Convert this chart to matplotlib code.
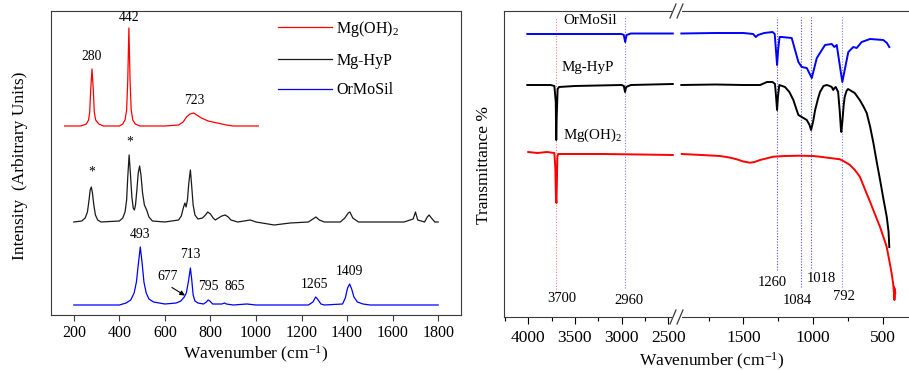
import matplotlib
matplotlib.use("Agg")
import matplotlib.pyplot as plt
from matplotlib.lines import Line2D
from matplotlib.patches import Rectangle

plt.rcParams['font.family'] = ['Liberation Serif', 'DejaVu Serif']
plt.rcParams['mathtext.fontset'] = 'custom'
plt.rcParams['mathtext.rm'] = 'Liberation Serif'
plt.rcParams['mathtext.it'] = 'Liberation Serif:italic'

# ---------------- Raman spectra (left panel), arbitrary units ----------------
raman_mgoh_x = [160, 230, 255, 265, 270, 274, 280, 286, 290, 296, 310, 330, 400, 415, 425, 432,
                437, 442, 447, 452, 459, 470, 490, 600, 660, 680, 695, 710, 726, 740, 760, 790,
                830, 870, 900, 940, 1010]
raman_mgoh_y = [189, 189, 191, 195, 203, 224, 246, 224, 203, 195, 191, 189, 189, 191, 195, 205,
                235, 287, 235, 205, 195, 191, 189, 189, 190, 193, 198, 201, 202, 200, 197, 194,
                192, 190, 189, 189, 189]

raman_hyp_x = [200, 235, 250, 260, 267, 272, 277, 282, 288, 295, 305, 320, 400, 415, 425, 432,
               437, 443, 449, 455, 461, 466, 471, 477, 483, 489, 495, 502, 510, 520, 530, 545,
               600, 660, 672, 682, 688, 693, 699, 705, 712, 718, 724, 732, 745, 765, 778, 788,
               800, 812, 821, 835, 850, 865, 878, 890, 920, 975, 1000, 1080, 1150, 1230, 1250,
               1263, 1278, 1300, 1370, 1390, 1405, 1412, 1425, 1450, 1650, 1690, 1700, 1710,
               1740, 1752, 1760, 1770, 1785, 1800]
raman_hyp_y = [93, 94, 97, 103, 115, 125, 128, 122, 110, 100, 95, 93, 94, 97, 103, 115,
               138, 160, 140, 118, 107, 105, 110, 125, 142, 149, 140, 122, 110, 105, 98, 94,
               93, 95, 99, 108, 112, 108, 115, 132, 145, 128, 110, 100, 96, 97, 100, 103,
               101, 97, 95, 97, 99, 100, 98, 95, 93, 95, 93, 90, 92, 93, 96,
               98, 95, 93, 93, 97, 102, 103, 97, 93, 93, 96, 103, 95,
               93, 98, 100, 97, 93, 93]

raman_orm_x = [200, 400, 430, 450, 465, 475, 483, 492, 500, 508, 518, 530, 550, 600, 650, 670,
               685, 694, 703, 712, 718, 724, 732, 745, 770, 782, 790, 797, 810, 850, 862, 870,
               900, 960, 1000, 1230, 1250, 1262, 1270, 1285, 1300, 1380, 1392, 1402, 1411, 1420,
               1430, 1445, 1470, 1500, 1800]
raman_orm_y = [10, 10, 12, 15, 22, 33, 50, 68, 52, 33, 22, 16, 13, 11, 12, 14,
               18, 22, 33, 47, 35, 20, 14, 12, 11, 13, 15, 14, 11, 11, 12, 11,
               10, 11, 10, 10, 13, 18, 16, 11, 10, 11, 17, 27, 31, 26,
               18, 13, 11, 10, 10]

raman_labels = ["Mg(OH)$_2$", "Mg-HyP", "OrMoSil"]

# ---------------- FTIR spectra (right panel), broken axis ----------------
ftir_orm_hi_x = [4010, 3000, 2975, 2965, 2960, 2955, 2945, 2900, 2450]
ftir_orm_hi_y = [283, 283, 282, 277, 275, 278, 282, 283.5, 283.5]
ftir_orm_lo_x = [1945, 1700, 1500, 1430, 1410, 1395, 1350, 1290, 1275, 1265, 1258, 1250, 1240,
                 1225, 1153, 1105, 1081, 1045, 1009, 973, 914, 866, 847, 830, 790, 747, 711,
                 687, 651, 591, 496, 470, 453]
ftir_orm_lo_y = [283.5, 284, 284, 283, 280, 282, 284, 285, 283, 265, 252, 268, 280,
                 280, 279, 255, 250, 249, 239, 259, 272, 273, 270, 272, 235, 265, 270,
                 269, 275, 278, 277, 274, 270]

ftir_hyp_hi_x = [4010, 3760, 3720, 3705, 3700, 3695, 3685, 3670, 3500, 3000, 2975, 2962, 2950,
                 2900, 2450]
ftir_hyp_hi_y = [232, 232, 231, 215, 177, 200, 228, 230, 231, 232, 231, 225, 230, 232, 233]
ftir_hyp_lo_x = [1945, 1700, 1500, 1380, 1330, 1290, 1273, 1265, 1258, 1252, 1242, 1201, 1170,
                 1141, 1120, 1105, 1081, 1045, 1025, 1014, 1000, 985, 965, 950, 925, 902, 880,
                 866, 855, 846, 837, 820, 808, 800, 797, 790, 780, 773, 760, 749, 725, 701, 665,
                 640, 615, 590, 567, 543, 519, 495, 471, 458, 453]
ftir_hyp_lo_y = [232, 232.5, 232, 232, 235, 235, 233, 220, 207, 220, 232, 230, 225,
                 217, 208, 202, 200, 197, 192, 187, 195, 207, 218, 225, 231, 232, 231,
                 230, 227, 229, 230, 225, 205, 188, 185, 195, 212, 220, 226, 228, 226, 224, 217,
                 211, 204, 190, 174, 155, 137, 118, 100, 85, 70]

ftir_mgoh_hi_x = [4000, 3900, 3800, 3720, 3710, 3703, 3698, 3694, 3688, 3680, 3600, 3200, 2800,
                  2450]
ftir_mgoh_hi_y = [165, 164, 165, 164, 150, 120, 114, 130, 160, 163, 163, 163, 162.5, 162]
ftir_mgoh_lo_x = [1942, 1800, 1667, 1600, 1547, 1500, 1452, 1420, 1380, 1285, 1200, 1094, 1000,
                  951, 880, 807, 770, 735, 700, 664, 640, 616, 590, 568, 545, 520, 495, 472,
                  455, 436, 425, 420, 418, 416, 413, 410]
ftir_mgoh_lo_y = [163, 162, 161, 159.5, 157.7, 155.5, 154.3, 155, 157, 160.3, 161, 161.3, 161,
                  160.3, 159, 157.7, 155, 152, 147, 140.3, 132, 123.7, 115, 107, 99, 90.3, 80,
                  70.3, 58, 43.7, 33, 25, 30, 17, 28, 24]

ftir_marks = [3700, 2960, 1260, 1084, 1018, 792]
ftir_mark_colors = ["#ff8080", "#7a7aff", "#4a4aff", "#4a4aff", "#4a4aff", "#7a7aff"]
ftir_mark_bottoms = [25, 29, 47, 30, 49, 30]
ftir_mark_text_x = [3639, 2921, 1294, 1113, 943, 777]
ftir_mark_text_y = [18, 16, 34, 17, 38, 20]

RED, BLACK, BLUE = "#ff0000", "#000000", "#0000ff"
SPINE = "#3a3a3a"

W, H = 909, 370
fig = plt.figure(figsize=(W / 100, H / 100), dpi=100, facecolor="white")


def fx(px):
    return px / W


def fy(py):
    return (H - py) / H


# ================= left: Raman =================
ax1 = fig.add_axes([fx(51), fy(315), fx(461) - fx(51), fy(11) - fy(315)])
ax1.plot(raman_mgoh_x, raman_mgoh_y, color=RED, lw=0.9, label=raman_labels[0])
ax1.plot(raman_hyp_x, raman_hyp_y, color="#1a1a1a", lw=0.9, label=raman_labels[1])
ax1.plot(raman_orm_x, raman_orm_y, color=BLUE, lw=0.9, label=raman_labels[2])
ax1.set_xlim(100, 1900)
ax1.set_ylim(0, 304)
ax1.set_xticks(range(200, 1801, 200))
ax1.set_yticks([])
ax1.tick_params(axis="x", direction="out", length=4, width=0.8, labelsize=11.5, pad=3,
                color=SPINE)
for sp in ax1.spines.values():
    sp.set_color(SPINE)
    sp.set_linewidth(0.8)
ax1.set_xlabel("Wavenumber (cm$^{-1}$)", fontsize=12.5, labelpad=2)
fig.text(fx(20), fy(166), "Intensity  (Arbitrary Units)", rotation=90, ha="center",
         va="center", fontsize=12.5)

leg = ax1.legend(loc="upper left", bbox_to_anchor=((278 - 51) / 410, (315 - 19) / 304),
                 frameon=False, fontsize=11.5, handlelength=3.4, handletextpad=0.25,
                 labelspacing=0.85, borderpad=0, borderaxespad=0)

# peak annotations
pk = dict(ha="center", va="center", fontsize=9.8)
ax1.text(280, 258, "280", **pk)
ax1.text(444, 297.5, "442", **pk)
ax1.text(727, 215, "723", **pk)
ax1.text(280, 142.5, "*", **pk)
ax1.text(446, 172.5, "*", **pk)
ax1.text(492, 81, "493", **pk)
ax1.text(712, 61, "713", **pk)
ax1.text(610, 39, "677", **pk)
ax1.text(793, 29, "795", **pk)
ax1.text(906, 29, "865", **pk)
ax1.text(1257, 30.5, "1265", **pk)
ax1.text(1412, 43.5, "1409", **pk)
ax1.annotate("", xy=(688, 19.5), xytext=(631, 27.5),
             arrowprops=dict(arrowstyle="-|>", color="black", lw=0.8,
                             mutation_scale=7, shrinkA=0, shrinkB=0))

# ================= right: FTIR (broken x axis) =================
bot, top = 317, 11
ax2 = fig.add_axes([fx(504), fy(bot), fx(677) - fx(504), fy(top) - fy(bot)])
ax3 = fig.add_axes([fx(677), fy(bot), fx(912) - fx(677), fy(top) - fy(bot)])

ax2.plot(ftir_orm_hi_x, ftir_orm_hi_y, color=BLUE, lw=1.4)
ax2.plot(ftir_hyp_hi_x, ftir_hyp_hi_y, color=BLACK, lw=1.4)
ax2.plot(ftir_mgoh_hi_x, ftir_mgoh_hi_y, color=RED, lw=1.4)
ax3.plot(ftir_orm_lo_x, ftir_orm_lo_y, color=BLUE, lw=1.4)
ax3.plot(ftir_hyp_lo_x, ftir_hyp_lo_y, color=BLACK, lw=1.4)
ax3.plot(ftir_mgoh_lo_x, ftir_mgoh_lo_y, color=RED, lw=1.4)

ax2.set_xlim(4260, 2405)
ax3.set_xlim(1976, 290)
for ax in (ax2, ax3):
    ax.set_ylim(0, 306)
    ax.set_yticks([])
    ax.tick_params(axis="x", which="major", direction="out", length=5, width=0.8,
                   labelsize=12.5, pad=4)
    ax.tick_params(axis="x", which="minor", direction="out", length=3, width=0.8)
    for sp in ax.spines.values():
        sp.set_color(SPINE)
        sp.set_linewidth(0.8)
ax2.spines["right"].set_visible(False)
ax3.spines["left"].set_visible(False)
ax3.spines["right"].set_visible(False)
ax2.set_xticks([4000, 3500, 3000, 2500])
ax2.set_xticks([4250, 3750, 3250, 2750], minor=True)
ax3.set_xticks([1500, 1000, 500])
ax3.set_xticks([1750, 1250, 750], minor=True)

# dotted marker lines and their labels
for wn, col, yb, tx, ty in zip(ftir_marks, ftir_mark_colors, ftir_mark_bottoms,
                               ftir_mark_text_x, ftir_mark_text_y):
    ax = ax2 if wn > 2200 else ax3
    ax.plot([wn, wn], [yb, 300], color=col, lw=0.8, ls=(0, (1, 1.5)), zorder=1)
    ax.text(tx, ty, str(wn), ha="center", va="center", fontsize=10.5)

ax2.text(3620, 297, "OrMoSil", ha="left", va="center", fontsize=10.8)
ax2.text(3640, 249, "Mg-HyP", ha="left", va="center", fontsize=10.8)
ax2.text(3625, 182, "Mg(OH)$_2$", ha="left", va="center", fontsize=10.8)

fig.text(fx(712), fy(361), "Wavenumber (cm$^{-1}$)", ha="center", va="center", fontsize=12.5)
fig.text(fx(484), fy(165), "Transmittance %", rotation=90, ha="center", va="center",
         fontsize=12.5)

# break marks "//" on top and bottom spines
for ysp in (top, bot):
    fig.add_artist(Rectangle((fx(672), fy(ysp + 2)), fx(10), 4 / H, transform=fig.transFigure,
                             facecolor="white", edgecolor="none", zorder=5))
    for x0 in (670, 677):
        fig.add_artist(Line2D([fx(x0), fx(x0 + 6)], [fy(ysp + 7), fy(ysp - 7)],
                              transform=fig.transFigure, color=SPINE, lw=0.9, zorder=6))

fig.savefig("out.png", dpi=100, facecolor="white")
